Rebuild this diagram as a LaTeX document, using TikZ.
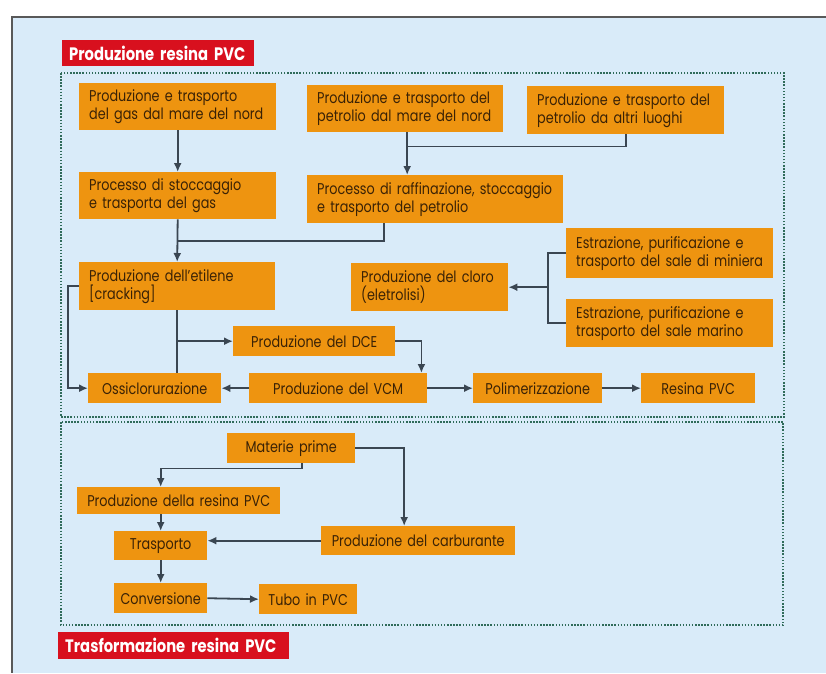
\documentclass[tikz,border=0pt]{standalone}
\usepackage{fontspec}
\setmainfont[FakeStretch=0.82]{Poppins}
\usepackage{xcolor}
\usepackage{tikz}
\usetikzlibrary{positioning, arrows.meta, calc}

\definecolor{pannello}{HTML}{D9EBF9}
\definecolor{arancio}{HTML}{EE9410}
\definecolor{testo}{HTML}{3A2206}
\definecolor{rosso}{HTML}{D8101E}
\definecolor{puntini}{HTML}{2F6B5A}
\definecolor{linea}{HTML}{3A4652}

\begin{document}
\begin{tikzpicture}[
        x=1pt, y=-1pt,
        proc_node/.style={rectangle, fill=arancio, anchor=north west, inner xsep=10pt, inner ysep=0pt, align=left, text=testo, font=\fontsize{15.6}{18}\selectfont},
        center_node/.style={proc_node, align=center},
        title_node/.style={rectangle, fill=rosso, anchor=north west, inner xsep=7pt, inner ysep=0pt, align=left, text=white, font=\fontsize{18}{20}\selectfont\bfseries},
        frame/.style={draw=puntini, line width=2.3pt, dash pattern=on 1.5pt off 1.6pt},
        line/.style={draw=linea, line width=1.8pt},
        arrow/.style={line, -{Latex[length=9pt, width=8pt]}}
    ]

        % Sfondo
        \useasboundingbox (0,0) rectangle (826,673);
        \fill[white] (0,0) rectangle (826,673);
        \fill[pannello] (12,17) rectangle (826,673);
        \draw[gray!70!black, line width=1.8pt] (826,17) -- (12,17) -- (12,673);

        % Riquadri
        \draw[frame] (61,73) rectangle (784,417);
        \draw[frame] (61,422) rectangle (783,625);

        % Titoli
        \node[title_node, text width=178pt, minimum height=26pt] (titprod) at (62,40) {Produzione resina PVC};
        \node[title_node, text width=217pt, minimum height=27pt] (tittrasf) at (58,632) {Trasformazione resina PVC};

        % Nodi - produzione
        \node[proc_node, text width=177pt, minimum height=47pt] (gasnord) at (79,83) {Produzione e trasporto\\del gas dal mare del nord};
        \node[proc_node, text width=176pt, minimum height=47pt] (petrnord) at (307,85) {Produzione e trasporto del\\petrolio dal mare del nord};
        \node[proc_node, text width=177pt, minimum height=48pt] (petraltri) at (527,86) {Produzione e trasporto del\\petrolio da altri luoghi};
        \node[proc_node, text width=177pt, minimum height=47pt] (gasstock) at (79,172) {Processo di stoccaggio\\e trasporta del gas};
        \node[proc_node, text width=236pt, minimum height=48pt] (raffin) at (307,175) {Processo di raffinazione, stoccaggio\\e trasporto del petrolio};
        \node[proc_node, text width=187pt, minimum height=50pt] (salemin) at (566,228) {Estrazione, purificazione e\\trasporto del sale di miniera};
        \node[proc_node, text width=137pt, minimum height=48pt] (cloro) at (351,263) {Produzione del cloro\\(eletrolisi)};
        \node[proc_node, text width=187pt, minimum height=48pt] (salemar) at (566,299) {Estrazione, purificazione e\\trasporto del sale marino};
        \node[proc_node, text width=176pt, minimum height=48pt] (etilene) at (79,262) {Produzione dell'etilene\\{[}cracking{]}};
        \node[center_node, text width=142pt, minimum height=30pt] (dce) at (233,326) {Produzione del DCE};
        \node[center_node, text width=113pt, minimum height=30pt] (ossi) at (88,373) {Ossiclorurazione};
        \node[center_node, text width=158pt, minimum height=30pt] (vcm) at (249,373) {Produzione del VCM};
        \node[center_node, text width=109pt, minimum height=30pt] (polim) at (473,373) {Polimerizzazione};
        \node[center_node, text width=94pt, minimum height=30pt] (resina) at (641,373) {Resina PVC};

        % Nodi - trasformazione
        \node[center_node, text width=108pt, minimum height=30pt] (materie) at (227,433) {Materie prime};
        \node[center_node, text width=193pt, minimum height=27pt, inner xsep=5pt] (prodres) at (77,487) {Produzione della resina PVC};
        \node[center_node, text width=81pt, minimum height=29pt, inner xsep=6pt] (trasp) at (114,531) {Trasporto};
        \node[center_node, text width=174pt, minimum height=29pt] (carbur) at (321,526) {Produzione del carburante};
        \node[center_node, text width=81pt, minimum height=30pt, inner xsep=6pt] (conv) at (114,583) {Conversione};
        \node[center_node, text width=90pt, minimum height=30pt, inner xsep=4pt] (tubo) at (259,584) {Tubo in PVC};

        % Punti di giunzione
        \coordinate (jpetr) at ([xshift=2pt, yshift=-14pt]petrnord.south);
        \coordinate (jgas) at ($(gasstock.south)!0.5!(etilene.north)$);
        \coordinate (jsale) at ([xshift=-18pt]salemin.west);

        % Collegamenti - produzione
        \draw[arrow] (gasnord.south) -- (gasstock.north);
        \draw[line] (petraltri.south) |- (jpetr);
        \draw[arrow] ([xshift=2pt]petrnord.south) -- (jpetr |- raffin.north);
        \draw[arrow] (gasstock.south) -- (etilene.north);
        \draw[line] ([xshift=-51pt]raffin.south) |- (jgas);
        \draw[line] (salemin.west) -- (jsale) |- (salemar.west);
        \draw[arrow] (jsale |- cloro.east) -- (cloro.east);
        \draw[line] (etilene.south) -- (etilene.south |- ossi.north);
        \draw[arrow] (etilene.south |- dce.west) -- (dce.west);
        \draw[arrow] (etilene.west) -- ++(-11pt,0) |- (ossi.west);
        \draw[arrow] (dce.east) -| ([xshift=-6pt]vcm.north east);
        \draw[arrow] (vcm.west) -- (ossi.east);
        \draw[arrow] (vcm.east) -- (polim.west);
        \draw[arrow] (polim.east) -- (resina.west);

        % Collegamenti - trasformazione
        \draw[arrow] ([xshift=11pt]materie.south) -- ++(0,-5pt) -| (prodres.north -| trasp.north);
        \draw[arrow] (materie.east) -| ([xshift=-14pt]carbur.north);
        \draw[arrow] (prodres.south -| trasp.north) -- (trasp.north);
        \draw[arrow] (carbur.west) -- (carbur.west -| trasp.east);
        \draw[arrow] (trasp.south) -- (conv.north);
        \draw[arrow] (conv.east) -- (tubo.west);

    \end{tikzpicture}
\end{document}
